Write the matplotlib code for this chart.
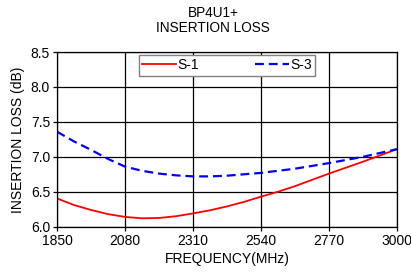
import matplotlib
matplotlib.use("Agg")
import matplotlib.pyplot as plt

plt.rcParams['font.family'] = ['Liberation Sans', 'DejaVu Sans']

# 数据
freq = [1850, 1907.5, 1965, 2022.5, 2080, 2137.5, 2195, 2252.5, 2310, 2367.5, 2425,
        2482.5, 2540, 2597.5, 2655, 2712.5, 2770, 2827.5, 2885, 2942.5, 3000]
s1_loss = [6.405, 6.31, 6.24, 6.18, 6.14, 6.12, 6.125, 6.15, 6.19, 6.235, 6.29,
           6.355, 6.43, 6.50, 6.58, 6.67, 6.76, 6.845, 6.93, 7.02, 7.11]
s3_loss = [7.36, 7.22, 7.10, 6.97, 6.86, 6.80, 6.76, 6.735, 6.72, 6.72, 6.73,
           6.75, 6.77, 6.80, 6.83, 6.87, 6.91, 6.955, 7.00, 7.055, 7.11]

x_ticks = [1850, 2080, 2310, 2540, 2770, 3000]
y_ticks = [6.0, 6.5, 7.0, 7.5, 8.0, 8.5]

fig = plt.figure(figsize=(4.11, 2.75), dpi=100)
ax = fig.add_axes([57 / 411, 1 - 226.7 / 275, 340 / 411, 174.7 / 275])

ax.plot(freq, s1_loss, color='#ff0000', lw=1.3, label='S-1')
ax.plot(freq, s3_loss, color='#0000ff', lw=1.6, ls=(0, (4, 2.2)), label='S-3')

ax.set_xlim(1850, 3000)
ax.set_ylim(6.0, 8.5)
ax.set_xticks(x_ticks)
ax.set_yticks(y_ticks)
ax.set_yticklabels([f'{v:.1f}' for v in y_ticks])
ax.grid(True, color='black', lw=0.9)
ax.set_axisbelow(True)
for s in ax.spines.values():
    s.set_linewidth(0.9)
ax.tick_params(labelsize=10, length=3, width=0.9, pad=2)

ax.set_xlabel('FREQUENCY(MHz)', fontsize=10, labelpad=3)
ax.set_ylabel('INSERTION LOSS (dB)', fontsize=10, labelpad=4)

fig.text(213 / 411, 1 - 13 / 275, 'BP4U1+', ha='center', va='center', fontsize=9.8)
fig.text(213 / 411, 1 - 28 / 275, 'INSERTION LOSS', ha='center', va='center', fontsize=9.8)

leg = ax.legend(loc='upper center', bbox_to_anchor=(0.5, 0.985), ncol=2,
                fontsize=10, handlelength=2.4, columnspacing=4.1,
                handletextpad=0.1, borderpad=0.25, fancybox=False,
                framealpha=1, borderaxespad=0)
leg.get_frame().set_edgecolor('#808080')
leg.get_frame().set_linewidth(1.0)

fig.savefig('out.png', dpi=100)
